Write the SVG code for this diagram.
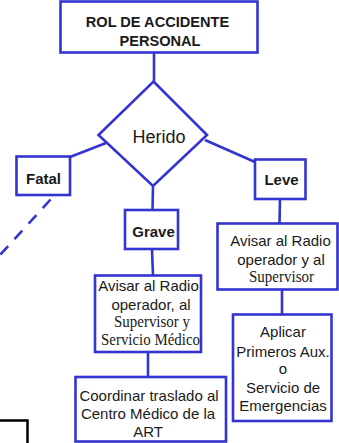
<svg xmlns="http://www.w3.org/2000/svg" width="339" height="443" viewBox="0 0 339 443">
<style>
.box{fill:#fff;stroke:#3434d2;stroke-width:2.6}
.ln{fill:none;stroke:#3434d2;stroke-width:2.6}
.t{font-family:"Liberation Sans",Arial,sans-serif;font-size:15px;fill:#1a1a1a;text-anchor:middle}
.b{font-weight:bold}
.s{font-family:"Liberation Serif","Times New Roman",serif;font-size:16.5px}
</style>
<rect width="339" height="443" fill="#fff"/>
<g id="connectors">
<line class="ln" x1="154" y1="53" x2="154" y2="81"/>
<line class="ln" x1="106" y1="143" x2="70" y2="157"/>
<line class="ln" x1="205" y1="140" x2="255" y2="162"/>
<line class="ln" x1="153" y1="186" x2="152.5" y2="210"/>
<line class="ln" x1="152" y1="249" x2="153" y2="275.5"/>
<line class="ln" x1="148" y1="352" x2="148" y2="377"/>
<line class="ln" x1="280" y1="199" x2="279.5" y2="223.5"/>
<line class="ln" x1="282" y1="289.5" x2="282" y2="314.5"/>
<line class="ln" x1="50.5" y1="199.5" x2="0" y2="255" stroke-dasharray="11.5 9.5"/>
</g>
<g id="title">
<rect class="box" x="60.5" y="1.5" width="197" height="51"/>
<text class="t b" x="157.5" y="26.5" style="font-size:14.6px">ROL DE ACCIDENTE</text>
<text class="t b" x="160" y="45.5" style="font-size:14.6px">PERSONAL</text>
</g>
<g id="herido">
<polygon class="box" points="153.5,81.5 207,135 153,186 98.5,135"/>
<text class="t" x="159" y="143" style="font-size:18px">Herido</text>
</g>
<g id="fatal">
<rect class="box" x="16.5" y="156.5" width="53.5" height="38.5"/>
<text class="t b" x="43.5" y="183.5">Fatal</text>
</g>
<g id="leve">
<rect class="box" x="255" y="159.5" width="50.5" height="39.5"/>
<text class="t b" x="281.5" y="185">Leve</text>
</g>
<g id="grave">
<rect class="box" x="125" y="210" width="53" height="39"/>
<text class="t b" x="153.5" y="236.5">Grave</text>
</g>
<g id="avisar-grave">
<rect class="box" x="95" y="275.5" width="106" height="76.5"/>
<text class="t" x="148.5" y="291">Avisar al Radio</text>
<text class="t" x="151" y="309.5">operador, al</text>
<text class="t s" x="152" y="327" textLength="76" lengthAdjust="spacingAndGlyphs">Supervisor y</text>
<text class="t s" x="150.5" y="344.5" textLength="99" lengthAdjust="spacingAndGlyphs">Servicio Médico</text>
</g>
<g id="coordinar">
<rect class="box" x="75.5" y="377" width="150.5" height="64.5"/>
<text class="t" x="149" y="400.5">Coordinar traslado al</text>
<text class="t" x="148" y="419">Centro Médico de la</text>
<text class="t" x="148" y="436.5">ART</text>
</g>
<g id="avisar-leve">
<rect class="box" x="217.5" y="223.5" width="120" height="66"/>
<text class="t" x="280.5" y="246">Avisar al Radio</text>
<text class="t" x="281" y="264.5">operador y al</text>
<text class="t s" x="281.5" y="282" textLength="65" lengthAdjust="spacingAndGlyphs">Supervisor</text>
</g>
<g id="aplicar">
<rect class="box" x="233" y="314.5" width="98.5" height="106.5"/>
<text class="t" x="283" y="337">Aplicar</text>
<text class="t" x="283" y="356.5">Primeros Aux.</text>
<text class="t" x="283" y="373.5">o</text>
<text class="t" x="283" y="393">Servicio de</text>
<text class="t" x="283" y="410.5">Emergencias</text>
</g>
<g id="black-box">
<polyline points="-2,420.5 27.5,420.5 27.5,445" fill="none" stroke="#000" stroke-width="2.5"/>
</g>
</svg>
